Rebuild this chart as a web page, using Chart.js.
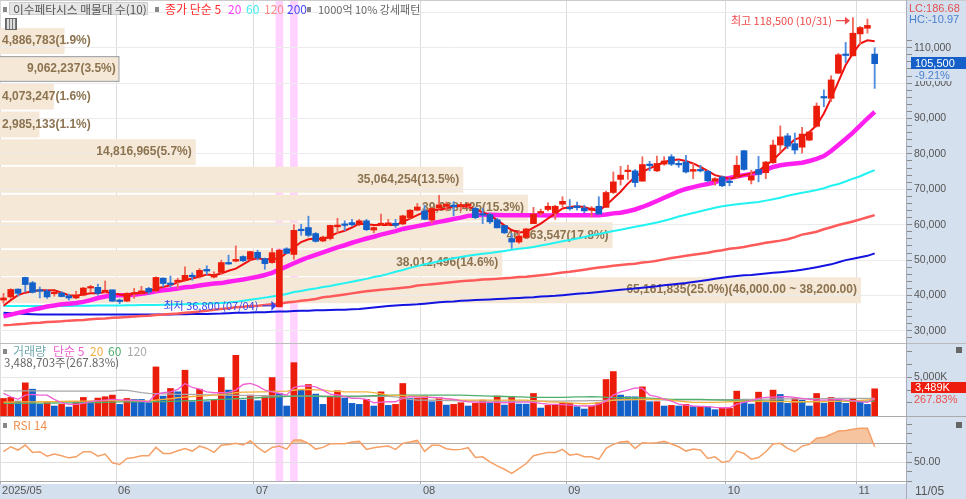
<!DOCTYPE html>
<html>
<head>
<meta charset="utf-8">
<script src="https://cdn.jsdelivr.net/npm/chart.js@4"></script>
<style>
  html, body { margin: 0; padding: 0; background: #fff; overflow: hidden; }
  #wrap { position: relative; width: 966px; height: 499px; overflow: hidden; font-family: "Noto Sans CJK KR", sans-serif; }
  canvas { position: absolute; left: 0; }
  .box { position: absolute; }
  .t { position: absolute; white-space: nowrap; font-size: 12px; line-height: 12px; }
  .n { font-family: "Liberation Sans", sans-serif; font-size: 11px; }
  .sq { position: absolute; width: 4px; height: 5px; background: #888; }
</style>
</head>
<body>
<div id="wrap">
  <div class="box" style="left:907px;top:0;width:59px;height:499px;background:#d5e0ee"></div>
  <div class="box" style="left:0;top:484px;width:966px;height:15px;background:#d5e0ee"></div>

  <canvas id="base" width="966" height="481" style="top:0"></canvas>
  <canvas id="profile" width="966" height="343" style="top:0"></canvas>
  <canvas id="price" width="966" height="343" style="top:0"></canvas>
  <canvas id="volume" width="966" height="73" style="top:343px"></canvas>
  <canvas id="rsi" width="966" height="82" style="top:417px"></canvas>

  <div class="box" style="left:0;top:0;width:966px;height:1px;background:#ccc"></div>
  <div class="box" style="left:0;top:343px;width:966px;height:1px;background:#bbb"></div>
  <div class="box" style="left:0;top:416px;width:966px;height:1px;background:#aaa"></div>
  <div class="box" style="left:0;top:481px;width:907px;height:1px;background:#aaa"></div>
  <div class="box" style="left:906px;top:0;width:1px;height:499px;background:#aab"></div>

  <!-- header row -->
  <div class="sq" style="left:3px;top:7px"></div>
  <div class="box" style="left:9px;top:2px;width:139px;height:13px;background:#e6e6e6;border:1px solid #ccc;box-sizing:border-box"></div>
  <div class="t" style="left:13px;top:3px;color:#555;font-size:11.7px">이수페타시스 매물대 수(10)</div>
  <div class="sq" style="left:155px;top:7px"></div>
  <div class="t" style="left:165px;top:3px;color:#ff2a2a">종가 단순 5</div>
  <div class="t" style="left:228px;top:3px;color:#ff40ff">20</div>
  <div class="t" style="left:246px;top:3px;color:#40eeee">60</div>
  <div class="t" style="left:264px;top:3px;color:#ff8a8a">120</div>
  <div class="t" style="left:287px;top:3px;color:#4444ff">200</div>
  <div class="sq" style="left:307px;top:7px"></div>
  <div class="t" style="left:318px;top:3px;color:#666;font-size:11px">1000억 10% 강세패턴</div>
  <div class="box" style="left:5px;top:18px;width:12px;height:12px;background:repeating-linear-gradient(90deg,#777 0 1px,#ddd 1px 3px);border:1px solid #666;box-sizing:border-box"></div>

  <!-- right column -->
  <div class="t n" style="left:909px;top:2px;color:#e05050">LC:186.68</div>
  <div class="t n" style="left:909px;top:13px;color:#4a80d0">HC:-10.97</div>
  <div class="box" style="left:911px;top:57px;width:55px;height:12px;background:#1560c8"></div>
  <div class="t n" style="left:915px;top:57px;color:#fff">105,500</div>
  <div class="t n" style="left:915px;top:69px;color:#4a80d0;background:#d5e0ee;padding-right:4px">-9.21%</div>
  <div class="box" style="left:911px;top:382px;width:55px;height:11px;background:#ee1c0c"></div>
  <div class="t n" style="left:915px;top:381px;color:#fff">3,489K</div>
  <div class="t n" style="left:914px;top:393px;color:#e85050">267.83%</div>
  <div class="box" style="left:956px;top:347px;width:6px;height:6px;background:#666"></div>
  <div class="box" style="left:956px;top:422px;width:6px;height:6px;background:#666"></div>
  <div class="t n" style="left:915px;top:485px;color:#555;font-size:12px">11/05</div>

  <!-- volume and rsi legends -->
  <div class="sq" style="left:3px;top:349px"></div>
  <div class="t" style="left:13px;top:345px;color:#70aab0">거래량</div>
  <div class="t" style="left:53px;top:345px;color:#ee60d0">단순 5</div>
  <div class="t" style="left:90px;top:345px;color:#f0b040">20</div>
  <div class="t" style="left:108px;top:345px;color:#50b070">60</div>
  <div class="t" style="left:127px;top:345px;color:#aaa">120</div>
  <div class="t" style="left:4px;top:356px;color:#666;font-size:11.5px">3,488,703주(267.83%)</div>
  <div class="sq" style="left:3px;top:423px"></div>
  <div class="t" style="left:13px;top:419px;color:#f09050">RSI 14</div>
</div>

<script>
// month boundaries on the bar index axis
const monthStarts = [-0.48, 15.5, 34.5, 57.5, 77.5, 99.5, 117.5];
const monthLabels = ['2025/05', '06', '07', '08', '09', '10', '11'];
const highlightBars = [38, 40];
// right hand tick marks
const priceTicks = [28000,30000,32000,34000,36000,38000,40000,42000,44000,46000,48000,50000,52000,54000,56000,58000,60000,
  62000,64000,66000,68000,70000,72000,74000,76000,78000,80000,82000,84000,86000,88000,90000,92000,94000,96000,98000,100000,
  102000,104000,106000,108000,110000,112000,120000];
const volumeTicks = [1667, 3333, 5000, 6667, 8333];
const rsiTicks = [30, 40, 50, 60, 70, 80, 90];

const opens = [
  38700,39600,41800,45100,43600,41500,41300,40500,40700,39900,
  39300,40100,42100,42300,41000,41600,38500,38400,40400,40600,
  42000,41300,44900,43400,43900,44300,45600,45300,47400,45200,
  46500,49300,49700,51000,50200,52200,50400,49300,36800,53200,
  51600,58500,59200,57500,55400,56100,59400,60000,60600,60000,
  61100,58500,60000,60100,60400,60200,62000,64100,63900,61300,
  64700,65200,65400,65200,65300,64600,63100,62900,61400,59800,
  56100,55100,56400,60300,63300,64300,63300,65800,64700,65300,
  64700,64100,65200,64900,69100,72800,75000,75200,72300,76900,
  75200,77100,79200,77100,77700,75100,75600,75100,72300,73500,
  72100,73500,80900,72600,75600,74700,77500,82500,85100,82900,
  81900,83900,87800,96000,95700,102800,108200,107700,113900,115500,
  108200];
const closes = [
  39300,41700,40600,43100,40900,41200,39600,40700,39700,39300,
  40100,42100,42400,40600,41500,38400,38300,40600,40700,41300,
  41000,45100,43400,43100,44300,45700,45300,47100,46900,45900,
  49300,48900,50200,49800,52400,50600,49000,52100,52800,51900,
  58400,58300,57000,55300,56500,59800,59900,59800,60000,61100,
  58600,59200,60300,60500,59800,62500,64100,65000,61500,64600,
  65600,65800,65100,65700,65800,62000,62700,60800,59100,57700,
  55100,56800,58800,63000,63700,65200,65200,66600,64500,64800,
  63900,64700,63000,69100,72100,74000,75400,71900,77000,76700,
  77300,78000,77100,76900,74900,75600,75200,72400,73000,71000,
  71900,76800,75600,73800,74200,77700,82500,84800,82200,81100,
  85600,86200,93500,95800,100900,108000,107800,114100,115700,116300,
  105500];
const highs = [
  40600,41900,41900,45200,44000,42400,41700,41200,41100,40400,
  41200,42300,42900,43200,44100,41600,39000,40800,42000,42600,
  42300,45300,45000,45500,44900,48100,46400,47600,48400,46700,
  50000,51400,54000,51200,52500,52800,50600,53300,53100,53500,
  60000,60100,62400,57800,56800,59900,61800,61100,61500,61500,
  61500,59400,63000,61500,61500,62700,64300,66000,65500,64800,
  68300,66400,66500,66300,66200,65000,64600,63300,61800,59800,
  57500,58400,59000,64900,64400,66200,65500,67900,67100,66400,
  65500,65100,67900,69500,74900,76500,76800,75600,79200,77900,
  79400,79200,79800,78200,79600,77300,76800,75300,73300,73800,
  73000,79400,81000,75400,79300,77900,83900,87900,85800,85900,
  87500,86300,94400,98100,102100,108400,111500,118500,116000,118100,
  110000];
const lows = [
  37800,39200,39800,41000,40700,39300,39200,39800,39600,38700,
  39100,39900,41000,40100,40800,38300,37700,38300,39200,40300,
  40400,41000,42400,42300,42000,44000,44300,44900,45900,45000,
  46000,48800,49500,49600,50000,50000,47400,49100,36800,51800,
  50200,57000,56600,55100,55200,55700,57600,58300,59600,59700,
  58300,57700,59700,59800,59200,60000,61800,63900,61400,60500,
  64500,63900,62500,64000,64800,61700,60300,60300,59100,57500,
  53300,54700,56100,60300,62700,63900,61500,65000,64100,64100,
  63400,62200,63000,64900,68800,71200,72800,70700,72300,75200,
  75000,76800,76700,76200,74600,73000,74900,72100,71200,70700,
  71000,73000,75400,71500,72100,73000,77300,80600,81500,80000,
  80200,83700,87600,93300,94800,102700,105800,107700,110800,114100,
  98500];

const ma5 = [
  37100,38700,40100,40800,41200,41500,41500,41500,40800,40100,
  39900,40300,40600,40600,41000,40600,40300,39900,40600,40600,
  41000,42000,42400,42900,43700,44300,44800,45300,45900,45700,
  46200,47000,47600,48800,50000,50500,50200,50300,50500,52000,
  53600,55100,55900,56100,55800,56800,57700,58300,59200,60300,
  60100,59900,59900,59900,59900,60800,61700,62700,63600,64100,
  64300,64600,65200,65300,65000,64400,63500,62700,61300,59800,
  58500,57800,58000,59200,60300,61750,63150,64600,65000,65200,
  65000,64300,63900,65500,67400,69300,71600,73500,74900,75900,
  76800,77700,78200,78400,78000,77300,76300,75200,74000,73500,
  73000,73500,74000,74500,75200,76800,78200,80300,82300,84100,
  84700,86200,88100,91400,95700,100400,105100,108400,111200,112100,
  111800];
const ma20 = [
  34100,34600,35100,35500,36000,36400,36900,37200,37500,37700,
  37900,38200,38700,39300,39700,40000,40100,40100,40200,40500,
  40800,41200,41500,41700,42000,42300,42500,42800,43100,43400,
  43500,43900,44200,44500,44900,45300,45800,46400,47300,48200,
  49100,50000,50800,51500,52200,52900,53600,54200,54900,55500,
  56100,56600,57200,57700,58200,58800,59200,59600,60000,60400,
  60800,61200,61600,62000,62500,62700,62800,62800,62750,62700,
  62700,62650,62700,62700,62650,62600,62650,62700,62700,62650,
  62650,62700,62700,62900,63200,63400,63800,64300,65000,65800,
  66700,67600,68500,69400,70100,70600,71100,71500,72000,72800,
  73200,73600,74000,74300,74700,75500,76300,76800,77100,77300,
  77500,78000,78600,79400,80800,82500,84200,86000,88000,90000,
  91900];
const ma60 = [
  37000,37000,37000,37000,37000,37000,37000,37050,37050,37050,
  37100,37100,37100,37150,37150,37200,37200,37250,37250,37300,
  37300,37350,37400,37450,37500,37550,37600,37650,37700,37800,
  37900,38000,38200,38500,38800,39100,39400,39700,40000,40400,
  41000,41300,41700,42000,42400,42700,43100,43500,43900,44300,
  44700,45200,45600,46100,46700,47200,47800,48300,48800,49200,
  49700,50100,50500,50900,51200,51500,51800,52000,52300,52600,
  52900,53200,53400,53700,54100,54500,54900,55300,55700,56100,
  56500,57000,57400,57800,58200,58600,59000,59400,59800,60200,
  60600,61100,61700,62300,62800,63300,63800,64300,64800,65200,
  65500,65800,66000,66200,66400,66800,67200,67600,68200,68600,
  69000,69400,69800,70300,71000,71500,72200,73000,73700,74600,
  75400];
const ma120 = [
  31600,31700,31900,32000,32200,32300,32500,32600,32700,32900,
  33000,33100,33300,33400,33500,33700,33800,33900,34100,34200,
  34300,34500,34600,34800,34900,35100,35300,35500,35700,36000,
  36200,36400,36700,36800,37000,37100,37300,37500,37700,38000,
  38200,38500,38700,39000,39500,39700,40000,40300,40600,40900,
  41200,41400,41600,41800,42000,42200,42400,42800,43000,43200,
  43400,43600,43800,44000,44200,44300,44500,44600,44700,44900,
  45000,45200,45300,45500,45700,45900,46200,46500,46700,47000,
  47300,47600,47900,48100,48400,48600,48800,49000,49300,49500,
  49800,50200,50600,50900,51200,51500,51800,52100,52500,52800,
  53200,53400,53700,54100,54500,54900,55200,55500,55900,56500,
  57200,57600,58000,58700,59300,59900,60400,60900,61500,62100,
  62700];
const ma200 = [
  35100,35000,34900,34800,34700,34600,34600,34600,34600,34600,
  34600,34600,34600,34600,34600,34600,34600,34600,34600,34600,
  34600,34600,34600,34650,34700,34700,34750,34800,34800,34850,
  34900,35000,35100,35150,35200,35300,35300,35400,35500,35500,
  35600,35700,35700,35800,35800,35900,36000,36000,36100,36200,
  36400,36600,36800,37000,37200,37300,37400,37500,37700,37900,
  38100,38200,38300,38500,38600,38700,38800,38900,39000,39100,
  39200,39300,39400,39500,39700,39800,39900,40100,40300,40500,
  40600,40800,41000,41200,41400,41600,41800,42000,42200,42400,
  42600,42900,43100,43300,43500,43800,44100,44400,44700,45000,
  45300,45500,45700,45800,46000,46200,46400,46600,46800,47000,
  47300,47600,48000,48400,48800,49400,50000,50400,50800,51200,
  51900];

// volume in thousands of shares
const volumes = [
  2250,2380,1910,4250,3440,1490,1740,1280,1490,1150,
  1830,2380,1830,2300,2470,2680,1490,2250,2130,2120,
  1700,6290,2550,3530,3100,5870,1830,3440,1830,2040,
  4930,3320,7780,2040,2680,1960,2470,4930,2890,1280,
  6840,3320,4040,2810,1490,2550,3230,2300,1620,1490,
  2130,1280,3100,1360,1490,4170,2250,2260,2550,1830,
  2340,1400,1490,1700,1280,1620,2040,1620,2550,1400,
  2380,1530,1520,2890,1020,1360,1370,1620,1630,1190,
  890,1280,1700,4680,5700,2680,2470,2460,3740,1830,
  1840,1280,1360,1280,1490,1190,1200,1190,810,980,
  990,3190,2040,1530,3060,1740,3320,2760,1620,2250,
  2040,1280,2890,1620,2380,2170,1620,2170,1740,1490,
  3489];
const volMa5 = [
  2890,2470,2130,2680,2760,2680,2680,2130,1700,1490,
  1490,1620,1830,1960,2040,2130,2080,2040,2000,1910,
  1830,2800,2980,3100,3400,4170,3660,3440,3100,2980,
  2980,3020,3320,4040,4170,3870,3320,3100,2890,2680,
  3660,3830,3870,3740,3320,2800,2720,2470,2250,2250,
  2130,1700,1790,1830,1830,2250,2470,2420,2380,2380,
  2340,2210,2130,1960,1830,1790,1740,1740,1740,1700,
  1740,1790,1790,1740,1620,1530,1490,1450,1400,1320,
  1280,1280,1530,1910,2680,3100,3320,3610,3530,2680,
  2470,2170,1910,1530,1400,1280,1230,1190,1100,1060,
  1060,1530,1740,1960,2250,2380,2420,2470,2470,2380,
  2250,2130,2040,2040,2080,2130,2040,1960,1830,1740,
  2250];
const volMa20 = [
  1790,1790,1800,1800,1810,1830,1830,1850,1870,1890,
  1900,1920,1930,1950,1960,1960,1980,1980,1990,1960,
  1920,2040,2130,2210,2340,2420,2500,2550,2600,2680,
  2760,2850,2980,3060,3060,3100,3100,3150,3150,3190,
  3300,3400,3400,3360,3360,3190,3170,3100,3100,3100,
  3100,3000,2850,2680,2640,2600,2550,2500,2470,2360,
  2250,2190,2130,2040,2040,2040,2040,2040,2040,2040,
  2040,2040,2040,1970,1900,1830,1790,1740,1680,1620,
  1570,1630,1700,1870,2040,2090,2130,2130,2130,2130,
  2130,2130,2020,1910,1830,1740,1740,1740,1740,1790,
  1830,1870,1910,1900,1870,1870,1860,1850,1840,1830,
  1830,1840,1850,1860,1870,1870,1900,1940,1990,2060,
  2130];
const volMa60 = [
  1620,1620,1620,1630,1640,1650,1660,1670,1680,1690,
  1700,1710,1720,1730,1750,1770,1800,1820,1830,1830,
  1830,1840,1860,1880,1900,1930,1960,2000,2050,2090,
  2130,2170,2210,2250,2300,2340,2390,2430,2470,2510,
  2550,2550,2550,2530,2500,2480,2500,2530,2550,2560,
  2580,2600,2630,2650,2680,2680,2680,2680,2680,2680,
  2680,2680,2680,2680,2650,2620,2590,2560,2530,2500,
  2470,2450,2420,2400,2380,2380,2380,2400,2420,2440,
  2460,2470,2440,2400,2360,2340,2340,2340,2340,2300,
  2240,2180,2130,2130,2130,2130,2130,2100,2070,2040,
  2040,2020,2000,1970,1950,1930,1910,1890,1870,1850,
  1830,1840,1850,1860,1870,1880,1890,1900,1900,1910,
  1910];
const volMa120 = [
  3230,3230,3230,3230,3220,3220,3210,3200,3190,3190,
  3190,3190,3190,3190,3190,3190,3320,3280,3150,3000,
  2890,2860,2830,2800,2780,2760,2760,2740,2720,2700,
  2680,2660,2650,2640,2620,2610,2600,2590,2570,2560,
  2550,2550,2550,2550,2530,2520,2500,2490,2470,2480,
  2500,2520,2550,2520,2450,2300,2150,2040,2040,2020,
  2000,1980,1960,1950,1940,1930,1920,1910,1910,1910,
  1910,1910,1910,1910,1910,1910,1910,1920,1930,1940,
  1950,1960,1970,1990,2000,2020,2040,2060,2130,2100,
  2080,2060,2040,2050,2060,2060,2070,2080,2080,2100,
  2100,2110,2130,2140,2150,2160,2170,2180,2190,2200,
  2210,2220,2230,2240,2250,2250,2250,2250,2250,2250,
  2250];
const rsiValues = [
  61.1,66.4,62.9,68.2,60.4,61.1,56.4,58.6,56.8,54.6,
  55.7,61.1,61.1,56.4,58.6,49.3,47.5,53.9,55.0,56.8,
  56.8,65.7,59.3,59.3,62.1,64.6,61.8,67.1,64.6,60.4,
  67.9,68.9,70.0,68.2,72.9,65.7,60.4,65.7,67.1,63.9,
  73.6,73.6,70.0,63.9,65.7,69.6,69.6,69.6,71.4,72.1,
  63.6,65.4,66.4,67.1,63.6,70.0,71.4,73.2,61.4,67.9,
  67.9,64.3,63.2,63.6,65.4,55.0,55.7,50.4,46.1,42.5,
  38.2,43.2,48.6,56.8,58.6,60.4,60.4,63.6,57.5,58.6,
  55.7,55.7,52.9,64.6,68.9,71.4,72.1,64.6,70.7,70.0,
  70.7,72.1,69.3,66.4,61.8,63.9,62.9,53.9,55.7,49.6,
  51.4,61.8,59.3,53.2,55.0,61.1,69.3,70.0,64.6,61.1,
  67.1,68.9,75.4,76.4,79.6,83.2,83.6,85.0,86.1,86.1,
  66.4];

// volume-by-price buckets, bottom to top
const profilePrices = [41500,49200,57000,64800,72700,80500,88300,96200,104000,111900];
const profileVolumes = [65161835,38012496,46363547,39968425,35064254,14816965,2985133,4073247,9062237,4886783];
const profileLabels = [
  '65,161,835(25.0%)(46,000.00 ~ 38,200.00)','38,012,496(14.6%)','46,363,547(17.8%)','39,968,425(15.3%)',
  '35,064,254(13.5%)','14,816,965(5.7%)','2,985,133(1.1%)','4,073,247(1.6%)','9,062,237(3.5%)','4,886,783(1.9%)'];
const currentBucket = 8;

const RED = '#ec1c0a', BLUE = '#1260c8';
const AXIS_W = 59;
const PRICE_MIN = 26580, PRICE_MAX = 123480;
const axisFont = { family: 'Liberation Sans', size: 10.5 };

const pts = arr => arr.map((v, i) => ({ x: i, y: v }));
const setTicks = list => a => { a.ticks = list.map(v => ({ value: v })); };
// fixed column width, and no room kept for half a tick label above and below
const fitRight = a => { a.width = AXIS_W; a.paddingTop = 0; a.paddingBottom = 0; };

function indexScale(extra) {
  return Object.assign({
    type: 'linear', min: -0.482, max: 124.45, display: false, offset: false,
    grid: { display: false, offset: false },
    afterBuildTicks: setTicks(monthStarts)
  }, extra);
}
function line(data, color, width, order, extra) {
  return Object.assign({ type: 'line', data: pts(data), borderColor: color, borderWidth: width,
    pointRadius: 0, tension: 0, fill: false, order: order }, extra);
}
const baseOpts = { responsive: false, animation: false, events: [], plugins: { legend: { display: false }, tooltip: { enabled: false } } };

// bottom layer: month lines and the two pink bands
new Chart(document.getElementById('base'), {
  type: 'bar',
  data: { datasets: [{
    data: highlightBars.map(i => ({ x: i, y: [0, 1] })),
    backgroundColor: '#ffd2ff', grouped: false, barPercentage: 1, categoryPercentage: 1, maxBarThickness: 7
  }] },
  options: Object.assign({}, baseOpts, {
    layout: { padding: { right: AXIS_W } },
    scales: {
      x: indexScale({ display: true, grid: { display: true, offset: false, color: '#dcdcdc', drawTicks: false }, border: { display: false },
        ticks: { display: false } }),
      y: { display: false, min: 0, max: 1 }
    }
  })
});

// the volume-by-price bars
const profileChart = new Chart(document.getElementById('profile'), {
  type: 'bar',
  data: { datasets: [{
    data: profilePrices.map((p, i) => ({ x: profileVolumes[i], y: p })),
    backgroundColor: '#f5e8d7',
    borderColor: '#a8a8a8',
    borderWidth: c => c.dataIndex === currentBucket ? 1.5 : 0,
    barPercentage: 0.95, categoryPercentage: 1
  }] },
  options: Object.assign({}, baseOpts, {
    indexAxis: 'y',
    layout: { padding: { right: AXIS_W } },
    scales: {
      x: { display: false, min: 0, max: 68650000 },
      y: { type: 'linear', display: false, offset: false, min: PRICE_MIN, max: PRICE_MAX }
    }
  })
});

// candles and moving averages
new Chart(document.getElementById('price'), {
  type: 'bar',
  data: { datasets: [
    line(ma200, '#1414e0', 2, 10),
    line(ma120, '#ff5a5a', 2.5, 9),
    line(ma60, '#22f2f2', 2, 8),
    line(ma20, '#ff20f0', 4.5, 7),
    line(ma5, '#f01010', 2, 6),
    { data: highs.map((h, i) => ({ x: i, y: [lows[i], h] })), grouped: false, order: 2,
      backgroundColor: closes.map((c, i) => c >= opens[i] ? '#f0695a' : '#4f8ce0'),
      barPercentage: 1, categoryPercentage: 1, maxBarThickness: 1.2 },
    { data: opens.map((o, i) => ({ x: i, y: [o, closes[i]] })), grouped: false, order: 1,
      backgroundColor: closes.map((c, i) => c >= opens[i] ? RED : BLUE),
      barPercentage: 1, categoryPercentage: 1, maxBarThickness: 6, minBarLength: 1.5 }
  ] },
  options: Object.assign({}, baseOpts, {
    scales: {
      x: indexScale(),
      y: {
        position: 'right', min: PRICE_MIN, max: PRICE_MAX,
        afterBuildTicks: setTicks(priceTicks),
        afterFit: fitRight,
        border: { display: false },
        grid: { color: c => c.tick.value % 10000 === 0 ? '#ebebeb' : 'transparent',
          tickColor: c => c.tick.value > 112000 ? 'transparent' : '#8a8a8a', tickLength: 5 },
        ticks: { autoSkip: false, padding: 2, color: '#555', font: axisFont,
          callback: v => (v % 10000 === 0 && v <= 110000) ? v.toLocaleString('en-US') : '' }
      }
    }
  }),
  plugins: [{
    id: 'profileText',
    // over the grid lines but under the candles
    beforeDatasetsDraw(chart) {
      const ctx = chart.ctx;
      ctx.save();
      ctx.font = 'bold 12px "Liberation Sans"';
      ctx.fillStyle = '#8c7350';
      ctx.textBaseline = 'middle';
      profileLabels.forEach((s, i) => {
        const end = profileChart.scales.x.getPixelForValue(profileVolumes[i]);
        const w = ctx.measureText(s).width;
        ctx.fillText(s, Math.max(2, end - 4 - w), chart.scales.y.getPixelForValue(profilePrices[i]));
      });
      ctx.restore();
    }
  }, {
    id: 'extremes',
    afterDatasetsDraw(chart) {
      const ctx = chart.ctx, sx = chart.scales.x, sy = chart.scales.y;
      const hx = sx.getPixelForValue(117) - 3, hy = sy.getPixelForValue(118500) + 3;
      const lx = sx.getPixelForValue(38) - 3, ly = sy.getPixelForValue(36800) - 1;
      ctx.save();
      ctx.font = '11px "Noto Sans CJK KR"';
      ctx.textBaseline = 'middle';
      ctx.textAlign = 'right';
      ctx.fillStyle = ctx.strokeStyle = '#f04848';
      ctx.fillText('최고 118,500 (10/31)', hx - 18, hy);
      ctx.lineWidth = 1.2;
      ctx.beginPath(); ctx.moveTo(hx - 14, hy); ctx.lineTo(hx - 1, hy); ctx.stroke();
      ctx.beginPath(); ctx.moveTo(hx, hy); ctx.lineTo(hx - 5, hy - 4); ctx.lineTo(hx - 5, hy + 4); ctx.fill();
      ctx.fillStyle = ctx.strokeStyle = '#3a46e6';
      ctx.fillText('최저 36,800 (07/04)', lx - 18, ly);
      ctx.beginPath(); ctx.moveTo(lx - 14, ly); ctx.lineTo(lx - 1, ly); ctx.stroke();
      ctx.beginPath(); ctx.moveTo(lx, ly); ctx.lineTo(lx - 5, ly - 5); ctx.lineTo(lx - 5, ly + 5); ctx.fill();
      ctx.restore();
    }
  }]
});

// volume panel
new Chart(document.getElementById('volume'), {
  type: 'bar',
  data: { datasets: [
    line(volMa120, '#a8a8a8', 1.3, 5),
    line(volMa60, '#4fae6c', 1.3, 4),
    line(volMa20, '#f2b43c', 1.3, 3),
    line(volMa5, '#f060d4', 1.3, 2),
    { data: pts(volumes), grouped: false, order: 6,
      backgroundColor: volumes.map((v, i) => i === 0 || v >= volumes[i - 1] ? RED : BLUE),
      barPercentage: 1, categoryPercentage: 1, maxBarThickness: 6 }
  ] },
  options: Object.assign({}, baseOpts, {
    scales: {
      x: indexScale(),
      y: {
        position: 'right', min: 0, max: 9360,
        afterBuildTicks: setTicks(volumeTicks),
        afterFit: fitRight,
        border: { display: false },
        grid: { color: c => c.tick.value === 5000 ? '#e6e6e6' : 'transparent', tickColor: '#8a8a8a', tickLength: 5 },
        ticks: { autoSkip: false, padding: 2, color: '#555', font: axisFont,
          callback: v => v === 5000 ? '5,000K' : '' }
      }
    }
  })
});

// rsi panel with the shared date axis
new Chart(document.getElementById('rsi'), {
  type: 'line',
  data: { datasets: [
    line(rsiValues, '#f5a066', 1.5, 1, { fill: { target: { value: 70 }, above: '#f7c4a0', below: 'transparent' } })
  ] },
  options: Object.assign({}, baseOpts, {
    scales: {
      x: indexScale({
        display: true,
        afterFit: a => { a.height = 18; a.paddingLeft = 0; a.paddingRight = 0; },
        border: { display: false },
        grid: { display: true, offset: false, drawOnChartArea: false, color: '#aab', tickLength: 3 },
        ticks: { display: true, autoSkip: false, maxRotation: 0, align: 'start', padding: 0, labelOffset: 2,
          color: '#555', font: { family: 'Liberation Sans', size: 11 },
          callback: v => monthLabels[monthStarts.indexOf(v)] }
      }),
      y: {
        position: 'right', min: 30, max: 98,
        afterBuildTicks: setTicks(rsiTicks),
        afterFit: fitRight,
        border: { display: false },
        grid: { color: c => c.tick.value === 70 ? '#a8a8a8' : c.tick.value === 50 ? '#e0e0e0' : 'transparent', tickColor: '#8a8a8a', tickLength: 5 },
        ticks: { autoSkip: false, padding: 2, color: '#555', font: axisFont,
          callback: v => v === 50 ? '50.00' : '' }
      }
    }
  })
});
</script>
</body>
</html>
